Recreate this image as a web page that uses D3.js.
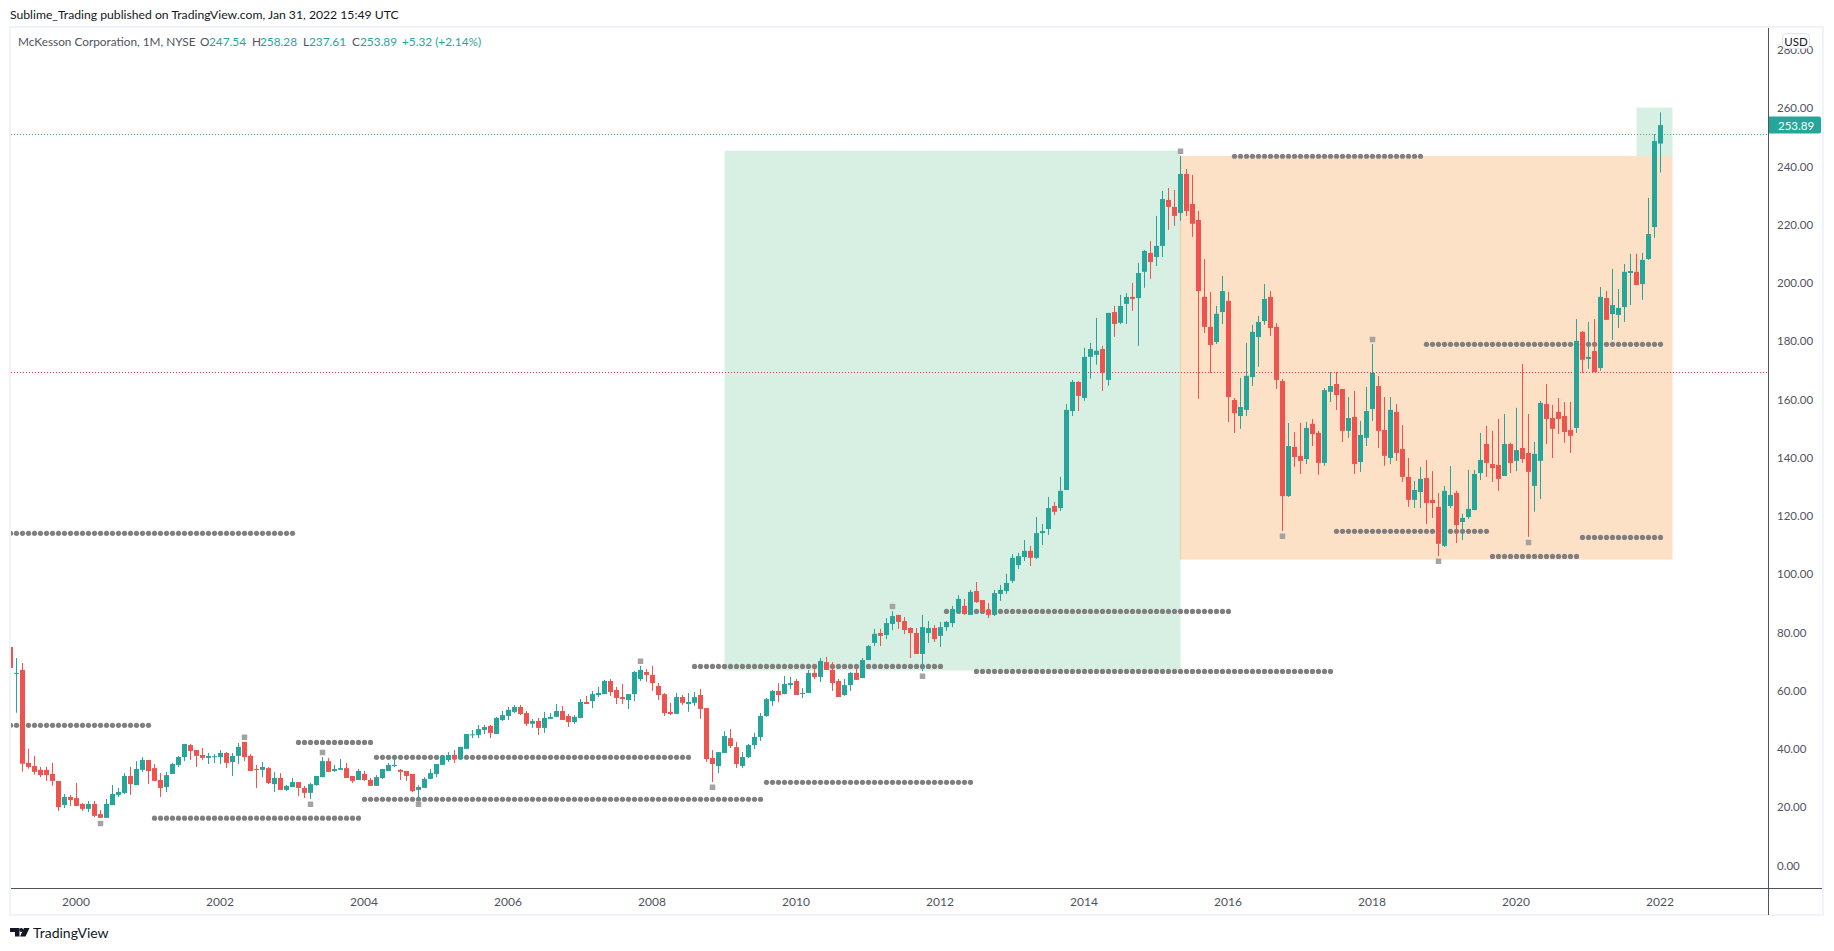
<!DOCTYPE html>
<html lang="en">
<head>
<meta charset="UTF-8">
<title>McKesson Corporation, 1M, NYSE</title>
<script src="https://cdn.jsdelivr.net/npm/d3@7"></script>
<style>
  html, body { margin: 0; padding: 0; background: #fff; }
  text { font-family: "Lato", "Noto Sans", sans-serif; }
</style>
</head>
<body>
<div id="root"></div>
<script>
// monthly bars, first one is Feb 1999, last one Jan 2022
const opens = [
  74.7,65.6,66.8,34.9,33.8,32.5,32.5,31.1,28.7,20.4,23.2,22.8,
  20.8,19.1,20.8,17.3,16.0,20.4,23.9,24.6,30.4,27.3,32.5,35.9,
  33.1,29.0,26.6,31.1,34.2,36.9,41.0,39.3,37.6,36.6,37.0,36.9,
  38.3,35.2,37.3,42.1,37.3,32.8,32.5,33.1,27.6,29.7,25.6,26.6,
  28.3,26.3,24.6,27.3,30.0,35.5,32.1,32.5,33.1,30.4,29.0,31.1,
  29.0,27.0,29.7,32.1,33.8,32.5,32.1,31.1,25.6,26.3,29.4,31.1,
  34.2,35.9,37.6,36.2,39.7,44.5,44.5,46.2,47.6,44.8,49.6,51.0,
  52.4,54.1,52.0,48.3,49.3,46.9,50.0,50.7,52.7,51.0,48.9,50.3,
  55.8,56.1,58.2,58.5,63.0,59.9,57.5,56.5,58.5,63.7,66.1,65.1,
  61.3,58.5,52.4,51.7,57.5,55.1,55.5,58.2,53.7,36.6,33.8,38.3,
  43.4,40.3,33.8,36.9,41.0,43.8,51.0,56.1,59.6,58.5,61.6,63.0,
  58.7,58.9,65.8,64.4,69.5,66.8,63.0,58.2,61.6,65.8,64.0,70.2,
  76.1,79.5,78.8,82.6,85.7,83.6,81.2,79.5,72.3,79.5,81.2,78.5,
  81.5,82.9,86.7,88.8,85.7,93.9,90.8,87.4,85.7,92.9,93.9,97.4,
  102.8,105.6,107.7,105.3,113.8,115.2,123.1,122.4,128.6,155.7,165.7,160.2,
  174.3,175.0,177.0,166.4,189.7,186.0,192.5,194.9,194.5,203.5,210.0,208.6,
  212.4,228.2,225.8,223.7,237.1,226.8,221.3,194.9,184.6,179.4,189.7,193.5,
  159.5,154.0,156.1,167.4,181.1,186.6,194.9,184.6,166.0,126.5,143.4,140.3,
  139.2,151.3,148.2,137.9,162.3,165.0,163.3,148.9,153.7,138.2,146.5,156.4,
  164.3,149.2,139.6,155.4,142.7,133.1,125.2,127.9,132.7,125.2,122.8,109.4,
  123.1,127.6,117.6,119.3,121.7,134.4,144.4,137.5,137.2,133.4,144.4,138.6,
  143.0,141.3,130.0,138.6,158.1,153.3,155.4,154.0,149.2,149.9,182.9,173.6,
  176.3,170.5,194.5,189.0,188.7,191.4,203.1,203.5,199.3,207.9,218.9,247.54
];
const highs = [
  76.1,70.9,69.2,39.7,37.3,33.5,33.5,34.9,28.7,24.2,23.9,28.0,
  21.1,21.8,21.8,18.7,22.5,27.3,26.3,31.4,33.5,35.5,36.9,35.9,
  34.5,31.4,31.8,34.9,37.3,41.4,41.4,39.3,40.0,38.3,37.9,39.3,
  38.6,38.3,41.7,42.1,37.9,34.2,35.2,33.5,31.8,31.4,27.3,29.7,
  28.3,27.0,28.0,30.4,36.9,36.6,34.2,36.2,34.9,30.4,32.8,32.1,
  29.7,30.7,32.8,34.9,36.9,32.8,32.1,31.1,27.3,30.0,32.8,34.5,
  37.6,38.6,39.3,40.4,44.8,46.2,47.9,47.9,47.9,50.7,52.7,54.1,
  54.8,54.8,52.7,50.0,50.3,52.4,52.0,55.1,54.4,51.7,51.3,56.8,
  57.9,59.6,61.0,63.4,63.7,61.0,62.0,58.5,66.5,68.2,67.1,68.2,
  62.3,58.9,55.5,58.9,58.2,58.9,59.2,60.3,53.7,39.3,38.6,45.8,
  46.5,42.1,38.6,41.4,45.2,52.0,57.2,59.9,62.3,64.7,64.4,63.7,
  60.6,66.8,68.5,70.9,71.3,69.5,63.7,63.7,66.1,68.2,70.9,75.4,
  80.9,80.9,84.6,87.0,85.7,85.0,81.5,81.2,85.7,83.6,82.2,83.3,
  83.6,88.8,92.5,91.2,94.3,97.0,90.8,89.8,94.3,96.0,99.8,106.6,
  107.0,111.4,109.4,119.3,116.9,126.2,124.5,133.1,158.1,166.4,166.0,177.4,
  179.1,187.7,178.1,189.4,191.8,195.6,196.2,199.7,206.6,211.0,214.1,222.7,
  231.3,232.3,231.6,243.3,238.8,236.8,224.4,207.9,196.6,191.8,202.1,196.6,
  160.2,167.1,179.1,185.3,188.4,199.3,196.9,185.9,166.7,151.6,148.5,151.6,
  152.0,153.0,148.9,163.6,169.1,169.1,163.3,160.5,162.6,152.3,164.0,178.7,
  167.7,160.5,160.5,158.1,150.9,139.6,131.7,136.5,138.9,135.1,127.6,130.0,
  136.8,128.3,120.4,135.5,135.5,148.2,150.6,148.9,153.0,154.7,144.8,156.8,
  171.9,154.7,145.1,159.2,165.0,157.8,160.2,158.8,158.8,187.3,183.2,186.3,
  187.3,198.3,196.9,204.5,197.6,206.2,209.7,209.7,210.0,228.9,250.8,258.28
];
const lows = [
  62.7,52.1,31.9,32.9,30.8,30.0,28.7,27.0,18.4,19.4,20.1,20.1,
  18.4,18.0,16.3,16.0,16.0,20.4,23.2,24.2,23.9,27.3,31.8,27.6,
  28.7,23.2,24.9,31.1,33.5,35.5,35.9,33.5,35.9,34.5,34.9,34.5,
  33.1,30.4,34.5,35.5,32.1,26.3,30.0,27.6,24.9,25.6,25.2,26.6,
  23.5,22.8,22.5,27.0,30.0,31.8,31.8,32.5,29.7,28.0,29.0,28.7,
  27.0,27.0,29.4,32.1,33.5,29.0,28.7,24.9,22.2,26.3,29.4,30.0,
  34.2,35.2,34.9,36.2,39.7,43.4,43.4,44.8,43.4,44.8,49.3,49.6,
  52.0,51.3,47.6,46.9,44.5,45.2,50.0,50.7,49.6,47.2,48.3,50.3,
  55.1,53.7,57.5,58.5,57.9,55.1,55.1,53.4,56.1,63.0,62.7,59.6,
  56.5,51.0,51.3,51.7,54.8,52.4,54.4,50.0,35.2,28.3,31.4,38.3,
  40.0,33.1,33.1,36.6,39.7,42.4,50.7,54.4,55.8,58.5,60.3,58.2,
  57.2,58.9,63.7,62.7,66.8,59.6,57.5,57.9,59.6,63.4,64.0,70.2,
  75.0,75.0,77.4,80.5,80.9,79.1,70.9,72.3,66.4,76.1,76.4,74.7,
  80.2,81.5,86.7,85.7,85.7,89.8,86.7,84.6,85.3,90.5,92.9,96.7,
  101.5,104.2,102.5,104.9,109.7,113.2,120.0,121.4,128.6,154.0,155.7,159.2,
  166.8,171.6,162.6,164.4,181.2,185.6,185.6,190.1,178.1,198.0,201.1,205.5,
  208.6,217.9,219.3,221.0,222.7,215.5,159.9,182.5,168.8,178.7,185.6,151.9,
  148.2,149.6,154.0,164.3,170.9,185.3,181.5,163.3,114.5,126.2,136.5,134.1,
  137.5,143.7,133.8,136.9,158.8,156.1,145.1,146.5,134.1,134.8,143.7,152.3,
  143.0,136.9,137.5,138.6,131.3,122.8,122.4,122.4,116.9,119.0,105.9,109.0,
  122.4,110.4,111.4,118.6,121.7,132.0,133.1,131.3,128.3,133.4,134.4,135.0,
  137.9,112.5,121.1,125.5,144.4,139.6,147.8,144.8,141.3,148.2,168.8,170.2,
  169.1,169.5,187.0,180.1,184.2,186.3,192.1,199.0,193.9,207.6,215.2,237.61
];
const closes = [
  67.5,65.8,34.6,33.5,31.8,30.7,30.7,28.7,19.7,23.2,22.1,20.1,
  19.1,20.8,16.7,16.0,20.8,24.2,24.9,30.4,27.6,32.8,35.9,32.1,
  28.7,26.3,30.7,34.5,36.9,41.4,39.0,37.3,36.6,37.3,37.2,38.3,
  34.9,37.3,40.4,36.9,32.1,32.5,33.5,28.0,29.7,25.6,27.0,28.3,
  26.3,24.6,27.6,30.4,35.5,31.8,32.8,33.1,29.7,28.7,32.1,29.0,
  27.0,30.0,32.8,34.2,34.2,31.8,30.4,25.2,26.6,29.4,31.4,34.5,
  37.3,37.6,36.2,40.4,44.8,44.7,46.5,47.2,45.2,50.3,51.3,53.1,
  54.1,51.7,48.3,49.3,46.9,50.3,50.7,52.7,49.6,48.9,50.7,55.8,
  55.1,58.5,58.9,63.0,59.2,57.2,56.8,58.5,66.1,66.8,65.1,62.3,
  58.2,52.0,51.7,57.5,55.5,55.8,57.5,53.4,36.2,34.5,38.6,44.1,
  40.7,34.5,36.9,41.0,43.8,51.0,56.8,59.6,58.2,62.0,62.3,58.2,
  58.9,65.8,64.4,69.9,66.8,62.3,57.5,61.6,65.8,63.4,70.2,75.0,
  79.2,78.5,82.9,85.3,83.3,80.5,79.5,72.3,81.5,81.2,77.4,81.5,
  83.3,87.7,91.2,86.0,93.6,90.1,86.7,85.7,93.2,94.3,96.7,105.3,
  105.9,107.7,105.3,113.8,114.5,122.4,121.1,128.3,156.1,165.7,160.9,174.3,
  177.0,176.4,168.8,189.4,185.6,191.8,194.9,194.2,203.1,210.7,206.9,212.4,
  228.5,225.8,222.7,237.1,224.4,220.0,196.9,184.6,178.4,189.1,196.9,160.5,
  155.0,157.1,167.8,182.9,186.3,194.2,184.2,166.4,126.5,143.7,139.9,138.6,
  149.9,147.8,137.9,162.9,164.3,161.2,148.9,153.3,137.5,147.5,155.7,168.8,
  148.9,140.3,156.1,141.3,133.1,125.2,128.6,132.4,124.1,124.1,110.1,128.3,
  126.9,116.6,119.0,122.1,134.1,138.9,137.9,136.1,132.4,144.4,137.9,142.3,
  139.2,134.8,141.0,158.5,153.0,149.6,153.0,148.5,147.2,179.8,173.3,174.3,
  169.1,194.9,187.0,192.1,191.1,203.5,203.8,199.0,207.6,216.5,248.4,253.89
];

// pivot levels: price, first bar, last bar
const pivotPrices = [113.7, 47.8, 15.9, 41.9, 36.8, 22.4, 28.2, 68.0, 86.9, 66.3, 243.2, 178.6, 114.4, 105.8, 112.3];
const pivotStarts = [0, 0, 24, 48, 61, 59, 126, 114, 156, 161, 204, 236, 221, 247, 262];
const pivotEnds = [47, 23, 58, 60, 113, 125, 160, 155, 203, 220, 235, 275, 246, 261, 275];

// small grey squares over the swing highs and lows
const swingBars = [15, 39, 50, 52, 68, 105, 117, 147, 152, 195, 212, 227, 238, 253];
const swingPrices = [14.1, 43.7, 20.7, 38.5, 20.7, 69.8, 26.5, 88.6, 64.6, 244.9, 112.7, 180.3, 104.1, 110.6];

// shaded zones
const zoneStarts = [119, 195, 271];
const zoneEnds = [195, 277, 277];
const zoneTops = [245.1, 243.3, 259.9];
const zoneBottoms = [66.6, 104.7, 243.3];
const zoneColors = ["#d8efe3", "#fce1c7", "#d8efe3"];

const refPrices = [250.8, 169];
const refColors = ["#4caf50", "#f23645"];

const priceTicks = d3.range(0, 281, 20);
const yearTicks = d3.range(2000, 2023, 2);
const lastPrice = 253.89;

const WIDTH = 1834, HEIGHT = 951;
const paneLeft = 11, paneRight = 1768, paneTop = 28, paneBottom = 888;
const frameRight = 1823, frameBottom = 915;
const up = "#26a69a", down = "#ef5350", textColor = "#50535e";

const x = d3.scaleLinear().domain([0, 275]).range([10.5, 1660.5]);
const y = d3.scaleLinear().domain([0, 260]).range([864.5, 107.3]);
const barOfYear = yr => (yr - 1999) * 12 - 1;

const svg = d3.select("#root").append("svg")
  .attr("width", WIDTH).attr("height", HEIGHT)
  .style("display", "block");

svg.append("rect").attr("width", WIDTH).attr("height", HEIGHT).attr("fill", "#fff");

svg.append("defs").append("clipPath").attr("id", "pane")
  .append("rect")
  .attr("x", paneLeft - 1).attr("y", paneTop)
  .attr("width", paneRight - paneLeft + 1).attr("height", paneBottom - paneTop);

const plot = svg.append("g").attr("clip-path", "url(#pane)");

// zones
plot.selectAll(".zone").data(zoneStarts).enter().append("rect")
  .attr("class", "zone")
  .attr("x", d => x(d))
  .attr("width", (d, i) => x(zoneEnds[i]) - x(d))
  .attr("y", (d, i) => y(zoneTops[i]))
  .attr("height", (d, i) => y(zoneBottoms[i]) - y(zoneTops[i]))
  .attr("fill", (d, i) => zoneColors[i]);
plot.append("line")
  .attr("x1", x(195)).attr("x2", x(195))
  .attr("y1", y(243.3)).attr("y2", y(104.7))
  .attr("stroke", "#e6d7ac").attr("stroke-width", 1.5);

// horizontal price lines
plot.selectAll(".ref").data(refPrices).enter().append("line")
  .attr("class", "ref")
  .attr("x1", paneLeft).attr("x2", paneRight - 1)
  .attr("y1", d => Math.round(y(d)) + 0.5).attr("y2", d => Math.round(y(d)) + 0.5)
  .attr("stroke", (d, i) => refColors[i])
  .attr("stroke-dasharray", "1,2");

// pivot dots
pivotPrices.forEach((p, i) => {
  plot.append("g").selectAll("circle")
    .data(d3.range(pivotStarts[i], pivotEnds[i] + 1))
    .enter().append("circle")
    .attr("cx", d => x(d)).attr("cy", y(p)).attr("r", 2.6)
    .attr("fill", "#808080");
});

// swing squares
plot.selectAll(".swing").data(swingBars).enter().append("rect")
  .attr("class", "swing")
  .attr("x", d => x(d) - 2.75)
  .attr("y", (d, i) => y(swingPrices[i]) - 2.75)
  .attr("width", 5.5).attr("height", 5.5).attr("rx", 0.5)
  .attr("fill", "#a3a3a3");

// candles
const bars = d3.range(opens.length);
const isUp = i => closes[i] >= opens[i];
plot.selectAll(".wick").data(bars).enter().append("line")
  .attr("class", "wick")
  .attr("x1", d => x(d)).attr("x2", d => x(d))
  .attr("y1", d => y(highs[d])).attr("y2", d => y(lows[d]))
  .attr("stroke", d => isUp(d) ? up : down);
plot.selectAll(".body").data(bars).enter().append("rect")
  .attr("class", "body")
  .attr("x", d => x(d) - 2.5)
  .attr("width", 5)
  .attr("y", d => y(Math.max(opens[d], closes[d])))
  .attr("height", d => Math.max(1, Math.abs(y(opens[d]) - y(closes[d]))))
  .attr("fill", d => isUp(d) ? up : down);

// frame
const frameColor = "#f0f3fa";
svg.append("rect")
  .attr("x", 10).attr("y", 27)
  .attr("width", frameRight - 10).attr("height", frameBottom - 27)
  .attr("fill", "none").attr("stroke", frameColor).attr("stroke-width", 2);
svg.append("line")
  .attr("x1", paneLeft).attr("x2", frameRight - 1)
  .attr("y1", paneBottom + 0.5).attr("y2", paneBottom + 0.5)
  .attr("stroke", textColor);
svg.append("line")
  .attr("x1", paneRight + 0.5).attr("x2", paneRight + 0.5)
  .attr("y1", 28).attr("y2", frameBottom)
  .attr("stroke", textColor);

// price axis
const yAxis = d3.axisRight(y).tickValues(priceTicks)
  .tickFormat(d3.format(".2f")).tickSize(0).tickPadding(9);
const yG = svg.append("g").attr("transform", `translate(${paneRight},1)`).call(yAxis);
yG.select(".domain").remove();
yG.selectAll("text").attr("fill", textColor).style("font-size", "11.5px");

// time axis
const xAxis = d3.axisBottom(x).tickValues(yearTicks.map(barOfYear))
  .tickFormat((d, i) => String(yearTicks[i])).tickSize(0).tickPadding(9);
const xG = svg.append("g").attr("transform", `translate(-1,${paneBottom})`).call(xAxis);
xG.select(".domain").remove();
xG.selectAll("text").attr("fill", textColor).style("font-size", "12px");

// last price tag
svg.append("path")
  .attr("d", `M${paneRight + 1},${y(lastPrice) - 8.5}h50a2,2 0 0 1 2,2v13a2,2 0 0 1 -2,2h-50z`)
  .attr("fill", up);
svg.append("text")
  .attr("x", paneRight + 10).attr("y", y(lastPrice) + 4.5)
  .attr("fill", "#fff").style("font-size", "11.5px").text(lastPrice.toFixed(2));

// currency button
svg.append("rect")
  .attr("x", 1782.5).attr("y", 33.5).attr("width", 27).attr("height", 15).attr("rx", 4)
  .attr("fill", "#fff").attr("stroke", "#e0e3eb");
svg.append("text")
  .attr("x", 1796).attr("y", 45.5).attr("text-anchor", "middle")
  .attr("fill", "#131722").style("font-size", "11.5px").text("USD");

// captions
svg.append("text")
  .attr("x", 10).attr("y", 19)
  .attr("fill", "#131722").style("font-size", "12.2px")
  .text("Sublime_Trading published on TradingView.com, Jan 31, 2022 15:49 UTC");

const legend = [
  [18, "McKesson Corporation, 1M, NYSE", textColor],
  [200, "O", textColor], [209, "247.54", up],
  [252, "H", textColor], [260, "258.28", up],
  [303, "L", textColor], [309, "237.61", up],
  [352, "C", textColor], [360, "253.89", up],
  [402, "+5.32 (+2.14%)", up]
];
svg.selectAll(".legend").data(legend).enter().append("text")
  .attr("class", "legend")
  .attr("x", d => d[0]).attr("y", 46)
  .attr("fill", d => d[2]).style("font-size", "11.8px")
  .text(d => d[1]);

// logo
svg.append("path")
  .attr("d", "M10,928h9.5v8.5h-4.5v-4.5h-5z M24,928h5.5l-4,8.5h-5.5z")
  .attr("fill", "#131722");
svg.append("circle").attr("cx", 21.3).attr("cy", 930).attr("r", 1.9).attr("fill", "#131722");
svg.append("text")
  .attr("x", 33).attr("y", 938)
  .attr("fill", "#131722").style("font-size", "14px").text("TradingView");
</script>
</body>
</html>
